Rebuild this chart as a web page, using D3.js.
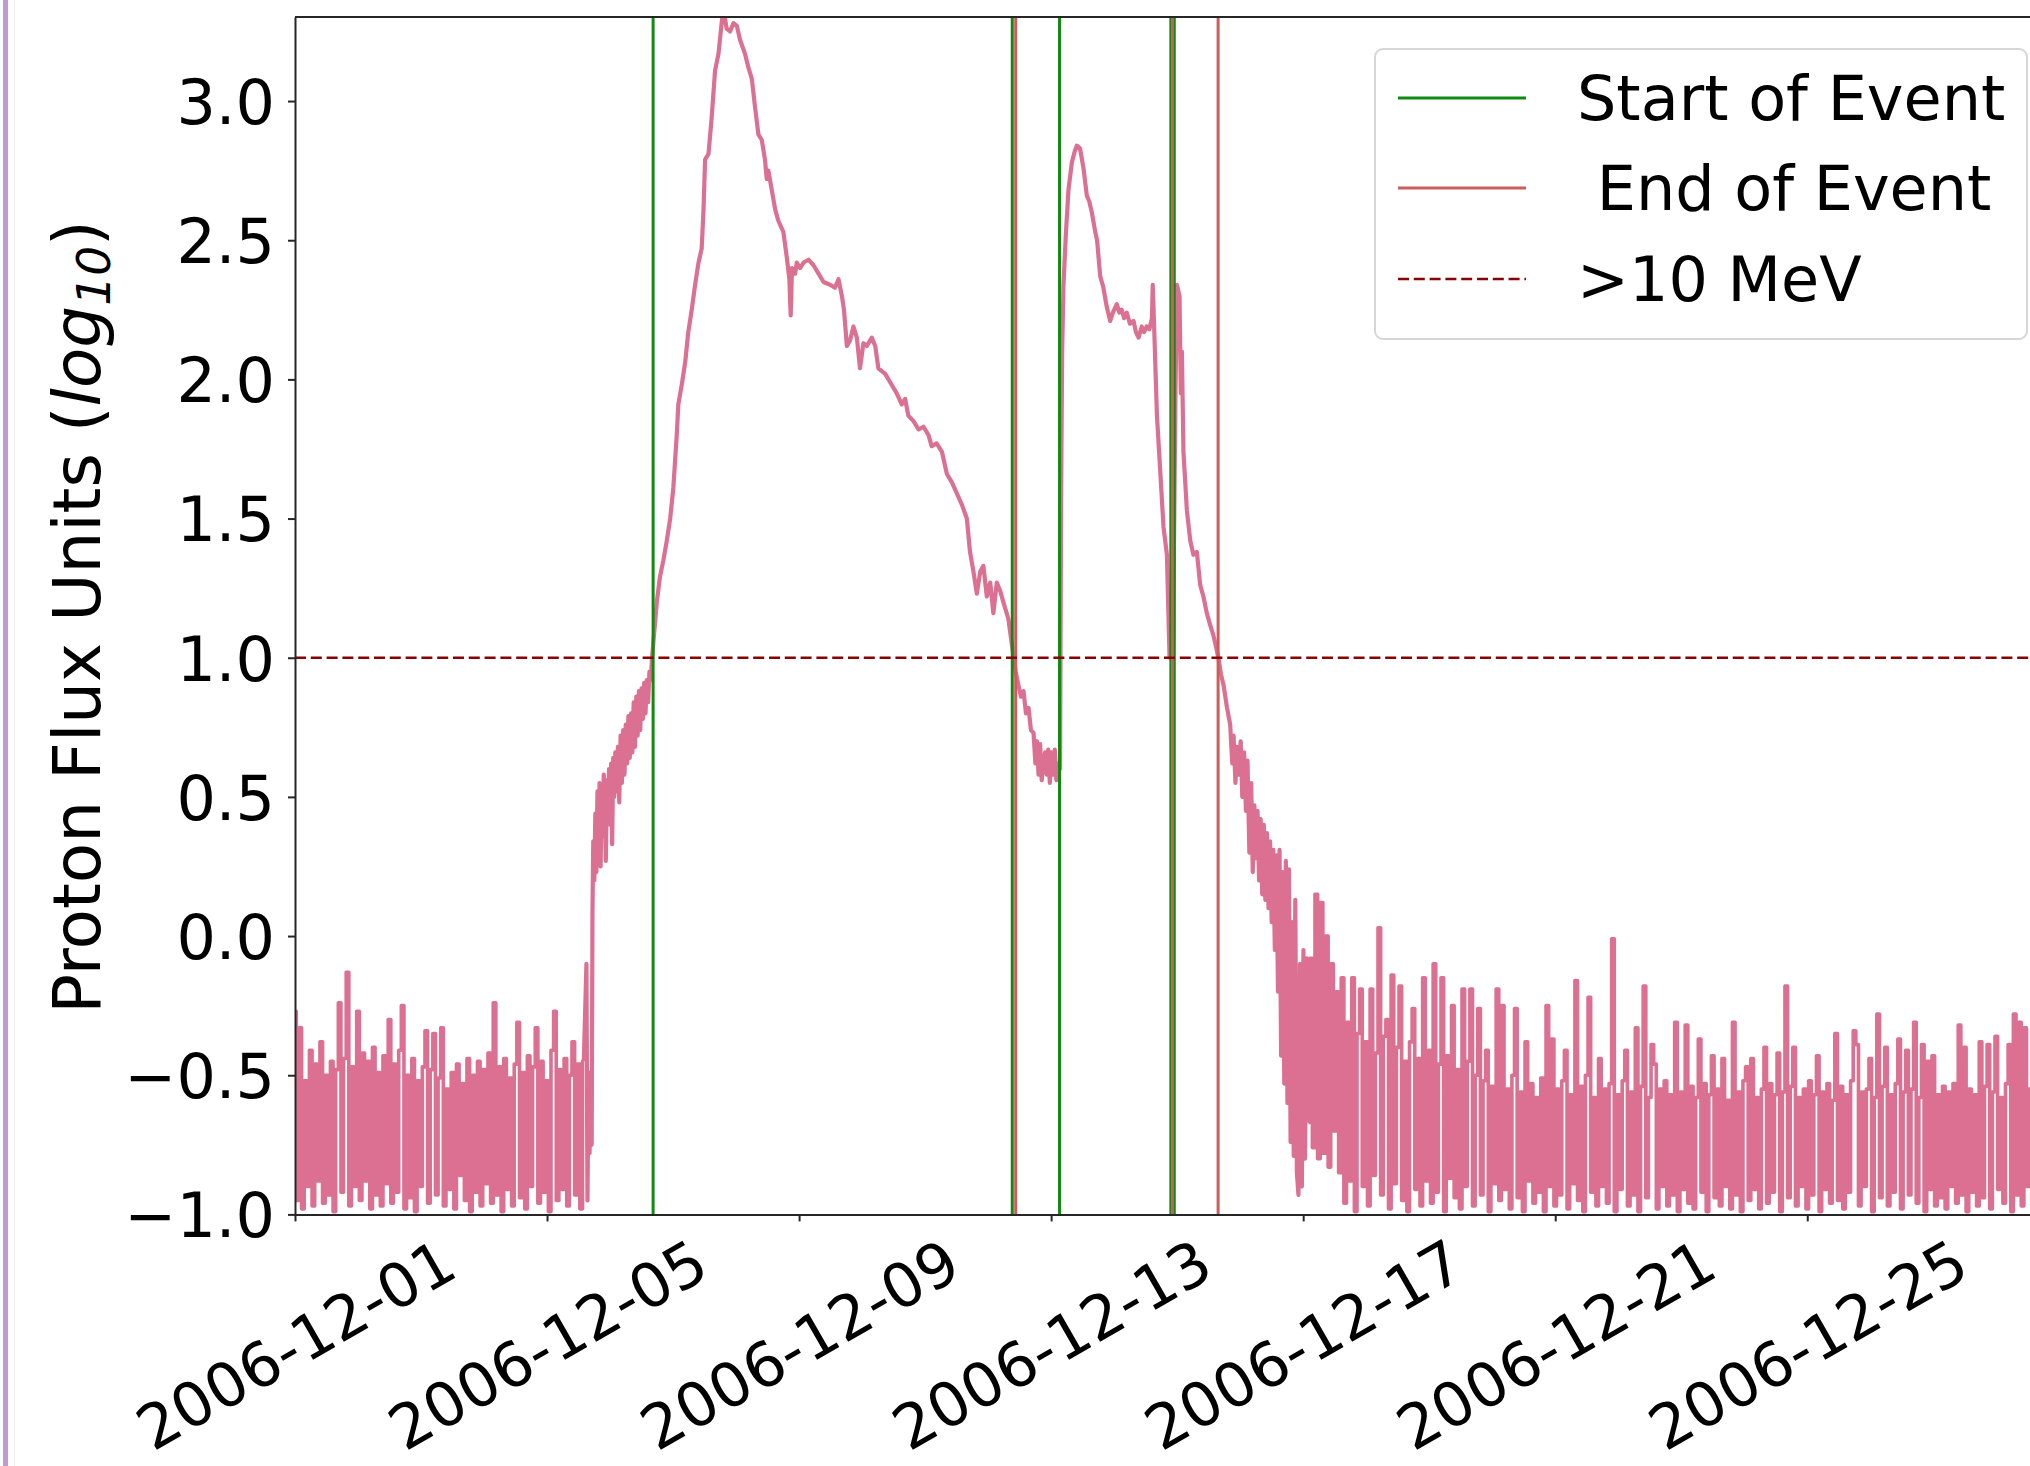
<!DOCTYPE html>
<html>
<head>
<meta charset="utf-8">
<script src="https://cdn.jsdelivr.net/npm/d3@7"></script>
<style>
  html, body { margin: 0; padding: 0; background: #ffffff; }
  text { font-family: "DejaVu Sans", sans-serif; }
</style>
</head>
<body>
<svg id="chart" width="2030" height="1466"></svg>
<script>
// ---------------- DATA ----------------
const baseTime = "2006-12-01T00:00:00Z";
const xDomainEnd = "2006-12-28T23:30:00Z";
const xTickDates = ["2006-12-01", "2006-12-05", "2006-12-09", "2006-12-13", "2006-12-17", "2006-12-21", "2006-12-25"];
const yTickValues = [-1.0, -0.5, 0.0, 0.5, 1.0, 1.5, 2.0, 2.5, 3.0];
const yDomain = [-1.0, 3.302];

// hourly log10 flux before the first event (hour 0 = 2006-12-01 00:00 UTC)
const preStartHour = 0;
const preFlux = [
  -0.27,-0.95,-0.33,-0.98,-0.52,-0.90,-0.41,-0.97,-0.46,-0.88,
  -0.38,-0.96,-0.50,-0.93,-0.45,-0.99,-0.48,-0.24,-0.92,-0.44,
  -0.13,-0.97,-0.47,-0.90,-0.27,-0.95,-0.42,-0.88,-0.45,-0.98,
  -0.40,-0.93,-0.49,-0.97,-0.43,-0.89,-0.30,-0.96,-0.46,-0.92,
  -0.41,-0.25,-0.98,-0.50,-0.94,-0.44,-0.99,-0.52,-0.90,-0.47,
  -0.34,-0.96,-0.48,-0.35,-0.93,-0.51,-0.33,-0.97,-0.55,-0.91,
  -0.49,-0.98,-0.46,-0.86,-0.53,-0.95,-0.44,-0.99,-0.50,-0.92,
  -0.45,-0.97,-0.48,-0.89,-0.42,-0.96,-0.24,-0.93,-0.47,-0.99,
  -0.44,-0.91,-0.51,-0.97,-0.46,-0.31,-0.94,-0.49,-0.98,-0.43,
  -0.90,-0.47,-0.33,-0.96,-0.45,-0.92,-0.52,-0.99,-0.41,-0.27,
  -0.95,-0.48,-0.91,-0.44,-0.97,-0.50,-0.38,-0.93,-0.46,-0.98,
  -0.45
];

// [hour, log10 flux] through both events
const eventSamples = [
  [111.0,-0.10],[111.4,-0.95],[111.8,-0.50],[112.2,-0.78],[112.6,-0.49],[113.0,-0.75],[113.3,0.08],[113.6,0.34],
  [114.0,0.20],[114.4,0.44],[114.8,0.23],[115.2,0.52],[115.6,0.30],[116.0,0.55],[116.4,0.25],[116.8,0.50],
  [117.2,0.36],[117.6,0.58],[118.0,0.45],[118.4,0.27],[118.8,0.56],[119.2,0.44],[119.6,0.60],[120.0,0.40],
  [120.4,0.62],[120.8,0.33],[121.2,0.64],[121.6,0.50],[122.0,0.66],[122.5,0.52],[123.0,0.68],[123.5,0.48],
  [124.0,0.72],[124.5,0.55],[125.0,0.74],[125.5,0.58],[126.0,0.76],[126.5,0.62],[127.0,0.79],[127.5,0.64],
  [128.0,0.80],[128.5,0.66],[129.0,0.84],[129.5,0.68],[130.0,0.86],[130.5,0.72],[131.0,0.88],[131.5,0.74],
  [132.0,0.89],[132.5,0.78],[133.0,0.91],[133.5,0.80],[134.0,0.92],[134.5,0.84],[135.0,0.95],[135.5,0.92],
  [136.0,1.00],[137.8,1.20],[139.0,1.29],[140.3,1.35],[141.6,1.42],[142.9,1.50],[144.1,1.61],[145.4,1.80],
  [146.0,1.91],[147.3,1.98],[148.6,2.06],[149.8,2.17],[151.1,2.25],[152.4,2.34],[153.7,2.42],[154.9,2.47],
  [155.6,2.61],[156.2,2.79],[157.5,2.81],[158.7,2.94],[160.0,3.11],[161.3,3.17],[162.5,3.28],[163.2,3.33],
  [164.4,3.26],[165.7,3.25],[167.0,3.28],[168.3,3.27],[169.5,3.22],[171.4,3.17],[172.7,3.12],[174.0,3.08],
  [175.2,2.98],[176.5,2.88],[177.8,2.86],[179.0,2.79],[179.7,2.72],[180.3,2.75],[181.6,2.68],[182.9,2.61],
  [184.1,2.57],[186.0,2.53],[187.3,2.44],[188.3,2.36],[188.8,2.23],[189.3,2.40],[190.5,2.38],[191.1,2.42],
  [192.4,2.40],[193.7,2.42],[195.6,2.43],[197.5,2.41],[199.4,2.38],[201.3,2.35],[203.8,2.34],[205.7,2.33],
  [207.0,2.36],[208.3,2.30],[209.1,2.25],[210.2,2.12],[211.4,2.14],[212.7,2.19],[214.0,2.15],[215.2,2.04],
  [216.5,2.13],[217.8,2.12],[219.7,2.15],[221.0,2.12],[222.2,2.04],[224.8,2.02],[227.3,1.98],[229.2,1.95],
  [231.1,1.91],[232.4,1.93],[233.6,1.87],[235.6,1.85],[237.5,1.82],[239.4,1.83],[241.3,1.80],[242.5,1.76],
  [244.4,1.77],[246.4,1.74],[248.3,1.66],[250.2,1.63],[252.1,1.59],[254.0,1.55],[255.9,1.50],[257.1,1.38],
  [258.4,1.31],[259.7,1.23],[261.0,1.31],[262.2,1.33],[263.5,1.22],[264.8,1.27],[266.0,1.16],[267.3,1.27],
  [268.6,1.24],[269.8,1.20],[271.7,1.14],[273.6,1.01],[274.5,0.95],[275.6,0.90],[276.5,0.86],[277.5,0.88],
  [278.4,0.80],[279.4,0.82],[280.3,0.74],[281.3,0.73],[282.0,0.62],[282.6,0.70],[283.2,0.58],[283.8,0.69],
  [284.4,0.56],[285.1,0.63],[285.7,0.66],[286.3,0.58],[286.9,0.67],[287.5,0.55],[288.1,0.66],[288.8,0.58],
  [289.4,0.67],[290.0,0.56],[290.8,0.62],[291.4,0.60],[291.8,1.60],[292.2,2.10],[292.7,2.34],[293.6,2.52],
  [294.6,2.68],[295.9,2.78],[297.0,2.82],[297.8,2.84],[299.0,2.83],[300.3,2.76],[301.6,2.66],[302.5,2.64],
  [303.5,2.60],[304.8,2.53],[305.5,2.50],[306.7,2.37],[307.9,2.33],[309.2,2.26],[310.5,2.21],[311.5,2.24],
  [313.0,2.27],[314.0,2.24],[314.9,2.25],[315.8,2.22],[316.8,2.24],[318.0,2.20],[319.4,2.21],[320.3,2.17],
  [321.3,2.15],[322.5,2.19],[323.4,2.17],[324.4,2.19],[325.4,2.18],[326.4,2.22],[326.7,2.34],[327.2,2.20],
  [328.3,1.87],[329.5,1.68],[330.8,1.47],[332.1,1.37],[333.1,1.00],[334.4,1.02],[335.3,1.90],[335.9,2.34],
  [336.9,2.30],[337.4,1.95],[337.8,2.10],[338.4,1.74],[339.7,1.53],[341.0,1.42],[342.2,1.37],[343.5,1.38],
  [344.8,1.26],[346.0,1.22],[347.3,1.16],[348.5,1.12],[349.8,1.08],[350.8,1.04],[351.7,1.00],[352.7,0.94],
  [353.7,0.90],[355.0,0.82],[356.2,0.76],[357.0,0.62],[357.5,0.72],[358.2,0.55],[358.8,0.68],[359.5,0.58],
  [360.2,0.70],[360.8,0.50],[361.5,0.66],[362.2,0.45],[362.8,0.63],[363.5,0.30],[364.2,0.55],[364.8,0.23],
  [365.4,0.47],[366.0,0.28],[366.6,0.45],[367.2,0.20],[367.8,0.42],[368.4,0.15],[369.0,0.40],[369.6,0.13],
  [370.2,0.37],[370.8,0.10],[371.4,0.34],[372.0,0.05],[372.6,0.31],[373.2,-0.05],[373.8,0.29],[374.4,-0.20],
  [375.0,0.31],[375.6,-0.43],[376.2,0.23],[376.8,-0.53],[377.4,0.27],[378.0,-0.60],[378.6,0.24],[379.2,-0.74],
  [379.8,0.05],[380.4,-0.79],[381.0,0.13],[381.6,-0.85],[382.2,-0.93],[382.8,-0.10],[383.5,-0.90],[384.1,-0.05],
  [384.7,-0.80],[385.4,-0.08],[386.0,-0.67]
];

// hourly log10 flux after the events
const postStartHour = 387;
const postFlux = [
  -0.08,-0.76,0.15,-0.80,0.12,-0.78,0.00,-0.83,-0.10,-0.70,-0.20,-0.85,
  -0.15,-0.96,-0.31,-0.88,-0.15,-0.99,-0.35,-0.19,-0.90,-0.38,-0.97,-0.19,
  -0.86,-0.42,0.03,-0.93,-0.36,-0.30,-0.98,-0.14,-0.89,-0.40,-0.18,-0.95,
  -0.45,-0.99,-0.38,-0.26,-0.91,-0.44,-0.97,-0.15,-0.88,-0.41,-0.96,-0.10,
  -0.92,-0.46,-0.15,-0.99,-0.43,-0.87,-0.25,-0.94,-0.48,-0.98,-0.19,-0.90,
  -0.45,-0.19,-0.97,-0.50,-0.26,-0.93,-0.52,-0.41,-0.99,-0.54,-0.89,-0.19,
  -0.95,-0.25,-0.91,-0.55,-0.98,-0.50,-0.26,-0.94,-0.56,-0.99,-0.38,-0.88,
  -0.53,-0.96,-0.58,-0.92,-0.51,-0.99,-0.25,-0.90,-0.37,-0.97,-0.55,-0.93,
  -0.52,-0.41,-0.98,-0.57,-0.89,-0.16,-0.95,-0.54,-0.99,-0.50,-0.22,-0.92,
  -0.58,-0.97,-0.44,-0.90,-0.55,-0.96,-0.53,-0.01,-0.99,-0.57,-0.91,-0.52,
  -0.41,-0.97,-0.56,-0.93,-0.33,-0.99,-0.54,-0.18,-0.94,-0.58,-0.39,-0.46,
  -0.98,-0.55,-0.90,-0.52,-0.97,-0.57,-0.93,-0.31,-0.99,-0.56,-0.91,-0.32,
  -0.96,-0.54,-0.98,-0.58,-0.37,-0.92,-0.53,-0.99,-0.57,-0.43,-0.94,-0.55,
  -0.97,-0.44,-0.90,-0.59,-0.98,-0.31,-0.93,-0.56,-0.99,-0.52,-0.47,-0.95,
  -0.44,-0.91,-0.58,-0.98,-0.55,-0.40,-0.96,-0.53,-0.92,-0.57,-0.42,-0.99,
  -0.56,-0.18,-0.94,-0.54,-0.40,-0.97,-0.58,-0.90,-0.55,-0.98,-0.52,-0.93,
  -0.57,-0.43,-0.99,-0.56,-0.91,-0.53,-0.96,-0.59,-0.35,-0.95,-0.54,-0.98,
  -0.57,-0.92,-0.52,-0.34,-0.39,-0.97,-0.56,-0.90,-0.55,-0.44,-0.99,-0.58,
  -0.28,-0.94,-0.54,-0.40,-0.97,-0.57,-0.92,-0.53,-0.37,-0.98,-0.56,-0.41,
  -0.93,-0.55,-0.31,-0.96,-0.58,-0.39,-0.99,-0.45,-0.91,-0.43,-0.97,-0.57,
  -0.94,-0.54,-0.98,-0.56,-0.90,-0.53,-0.96,-0.32,-0.93,-0.40,-0.99,-0.55,
  -0.92,-0.57,-0.97,-0.38,-0.94,-0.54,-0.39,-0.98,-0.56,-0.36,-0.91,-0.58,
  -0.96,-0.53,-0.39,-0.99,-0.28,-0.93,-0.31,-0.97,-0.33,-0.90,-0.55,-0.96
];

const eventStarts = ["2006-12-06T16:24:00Z", "2006-12-12T09:12:00Z", "2006-12-13T03:12:00Z", "2006-12-14T21:36:00Z", "2006-12-14T22:54:00Z"];
const eventEnds = ["2006-12-12T10:30:00Z", "2006-12-14T22:12:00Z", "2006-12-15T15:36:00Z"];
const thresholdLevel = 1.0;
const legendLabels = ["Start of Event", " End of Event", ">10 MeV"];
const yAxisLabel = ["Proton Flux Units (", "log", "10", ")"];

// ---------------- BUILD ----------------
const base = new Date(baseTime).getTime();
const hourToDate = h => new Date(base + h * 3600 * 1000);
const prePts = preFlux.map((v, i) => ({ t: hourToDate(preStartHour + i), v }));
const evPts = eventSamples.map(([h, v]) => ({ t: hourToDate(h), v }));
const postPts = postFlux.map((v, i) => ({ t: hourToDate(postStartHour + i), v }));
// join segments at their boundaries
const eventPath = [prePts[prePts.length - 1]].concat(evPts);
const postPath = [evPts[evPts.length - 1]].concat(postPts);

const svg = d3.select("#chart");
const W = 2030, H = 1466;
const plot = { left: 295, top: 17, right: 2058, bottom: 1214.4 };

svg.append("rect").attr("width", W).attr("height", H).attr("fill", "#ffffff");
// screenshot border on the far left
svg.append("rect").attr("x", 3).attr("y", 0).attr("width", 5).attr("height", H).attr("fill", "#c39bcf");
svg.append("rect").attr("x", 14).attr("y", 0).attr("width", 1).attr("height", H).attr("fill", "#eeeeee");

const x = d3.scaleUtc()
  .domain([new Date(baseTime), new Date(xDomainEnd)])
  .range([plot.left, plot.right]);
const y = d3.scaleLinear().domain(yDomain).range([plot.bottom, plot.top]);

svg.append("defs").append("clipPath").attr("id", "plotclip")
  .append("rect").attr("x", plot.left).attr("y", plot.top)
  .attr("width", plot.right - plot.left).attr("height", plot.bottom - plot.top);

const g = svg.append("g").attr("clip-path", "url(#plotclip)");

const fluxColor = "#db7093";
const lineLinear = d3.line().x(d => x(d.t)).y(d => y(d.v));
const lineStep = d3.line().curve(d3.curveStep).x(d => x(d.t)).y(d => y(d.v));

[[prePts, lineStep, 3.6], [eventPath, lineLinear, 4.2], [postPath, lineStep, 3.6]].forEach(([pts, gen, w]) => {
  g.append("path")
    .datum(pts)
    .attr("fill", "none")
    .attr("stroke", fluxColor)
    .attr("stroke-width", w)
    .attr("stroke-linejoin", "round")
    .attr("d", gen);
});

g.selectAll("line.start").data(eventStarts).enter().append("line")
  .attr("class", "start")
  .attr("x1", d => x(new Date(d))).attr("x2", d => x(new Date(d)))
  .attr("y1", plot.top).attr("y2", plot.bottom)
  .attr("stroke", "#118a11").attr("stroke-width", 3);

g.selectAll("line.end").data(eventEnds).enter().append("line")
  .attr("class", "end")
  .attr("x1", d => x(new Date(d))).attr("x2", d => x(new Date(d)))
  .attr("y1", plot.top).attr("y2", plot.bottom)
  .attr("stroke", "#cd5c5c").attr("stroke-width", 3);

g.append("line")
  .attr("x1", plot.left).attr("x2", plot.right)
  .attr("y1", y(thresholdLevel)).attr("y2", y(thresholdLevel))
  .attr("stroke", "#8b0000").attr("stroke-width", 2.6)
  .attr("stroke-dasharray", "11,4.8");

// spines
const spineColor = "#262626";
svg.append("line").attr("x1", plot.left).attr("x2", plot.right)
  .attr("y1", plot.top).attr("y2", plot.top)
  .attr("stroke", spineColor).attr("stroke-width", 2);

// y axis
const yAxis = svg.append("g")
  .attr("transform", `translate(${plot.left},0)`)
  .call(d3.axisLeft(y).tickValues(yTickValues).tickFormat(d3.format(".1f"))
    .tickSize(7).tickSizeOuter(0).tickPadding(13));
yAxis.select(".domain").attr("stroke", spineColor).attr("stroke-width", 2);
yAxis.selectAll(".tick line").attr("stroke", spineColor).attr("stroke-width", 2);
yAxis.selectAll(".tick text")
  .attr("font-size", 62).attr("fill", "#000")
  .attr("font-family", "DejaVu Sans").attr("dy", "0.36em");

// x axis
const xAxis = svg.append("g")
  .attr("transform", `translate(0,${plot.bottom})`)
  .call(d3.axisBottom(x).tickValues(xTickDates.map(s => new Date(s + "T00:00:00Z")))
    .tickFormat(d3.utcFormat("%Y-%m-%d")).tickSize(7).tickSizeOuter(0));
xAxis.select(".domain").attr("stroke", spineColor).attr("stroke-width", 2);
xAxis.selectAll(".tick line").attr("stroke", spineColor).attr("stroke-width", 2);
xAxis.selectAll(".tick text")
  .attr("font-size", 61).attr("fill", "#000")
  .attr("font-family", "DejaVu Sans")
  .attr("y", 0).attr("dy", "0.36em")
  .attr("text-anchor", "middle")
  .attr("transform", "translate(0,130) rotate(-30)");

// y label
const yl = svg.append("text")
  .attr("transform", "translate(100,617) rotate(-90)")
  .attr("text-anchor", "middle")
  .attr("font-size", 66).attr("fill", "#000")
  .attr("font-family", "DejaVu Sans");
yl.append("tspan").text(yAxisLabel[0]);
yl.append("tspan").attr("font-style", "italic").text(yAxisLabel[1]);
yl.append("tspan").attr("font-size", 47).attr("baseline-shift", "-22%").attr("font-style", "italic").text(yAxisLabel[2]);
yl.append("tspan").text(yAxisLabel[3]);

// legend
const lg = svg.append("g");
lg.append("rect")
  .attr("x", 1375).attr("y", 49).attr("width", 652).attr("height", 290)
  .attr("rx", 8).attr("ry", 8)
  .attr("fill", "#ffffff").attr("fill-opacity", 0.85)
  .attr("stroke", "#d6d6d6").attr("stroke-width", 2);
const legendStyles = [
  { color: "#118a11", dash: null, w: 3 },
  { color: "#cd5c5c", dash: null, w: 3 },
  { color: "#8b0000", dash: "11,4.8", w: 2.6 }
];
const legendRowY = [98, 188, 279];
legendLabels.forEach((lab, i) => {
  const ln = lg.append("line")
    .attr("x1", 1398).attr("x2", 1526)
    .attr("y1", legendRowY[i]).attr("y2", legendRowY[i])
    .attr("stroke", legendStyles[i].color).attr("stroke-width", legendStyles[i].w);
  if (legendStyles[i].dash) ln.attr("stroke-dasharray", legendStyles[i].dash);
  lg.append("text")
    .attr("x", 1577).attr("y", legendRowY[i]).attr("dy", "0.36em")
    .attr("font-size", 62).attr("fill", "#000")
    .attr("font-family", "DejaVu Sans")
    .style("white-space", "pre")
    .text(lab);
});
</script>
</body>
</html>
